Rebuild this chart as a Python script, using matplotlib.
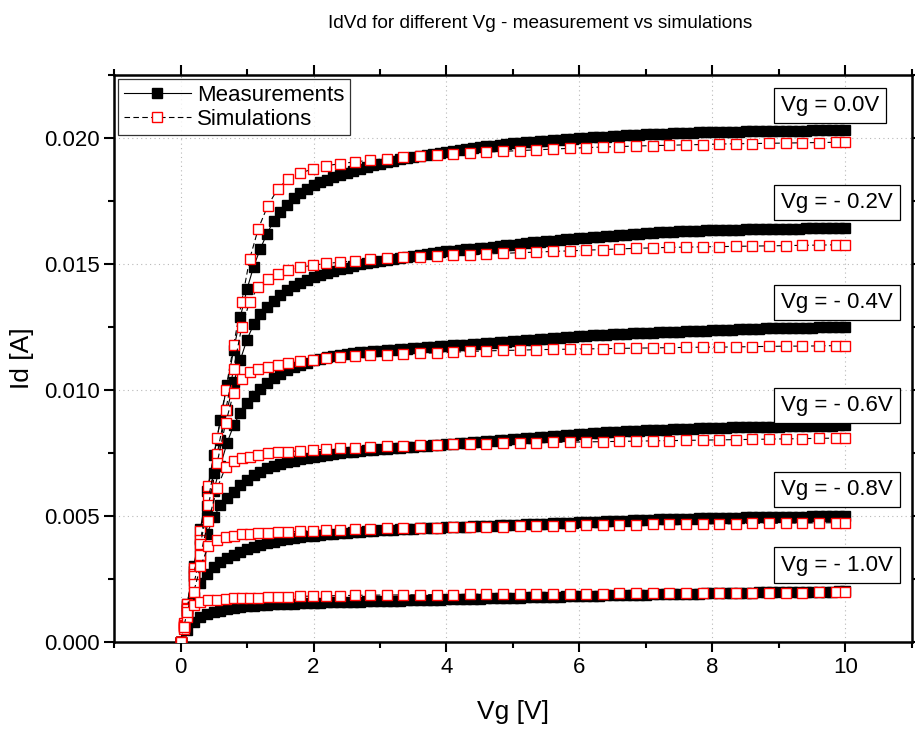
import numpy as np
import matplotlib
matplotlib.use("Agg")
import matplotlib.pyplot as plt
from matplotlib.ticker import MultipleLocator, FormatStrFormatter

plt.rcParams['font.family'] = ['Liberation Sans', 'DejaVu Sans']

# drain voltage sweep of the measurements (step 0.1 V)
meas_vd = [round(0.1 * i, 1) for i in range(101)]

# measured drain current, mA
meas_0_0 = [0, 1.5, 3.0, 4.5, 6.0, 7.4, 8.8, 10.2, 11.6, 12.9,
            14.0, 14.9, 15.6, 16.2, 16.7, 17.05, 17.35, 17.6, 17.8, 17.98,
            18.12, 18.24, 18.35, 18.45, 18.54, 18.62, 18.7, 18.78, 18.85, 18.92,
            18.98, 19.04, 19.1, 19.15, 19.2, 19.25, 19.29, 19.33, 19.37, 19.41,
            19.45, 19.49, 19.53, 19.57, 19.6, 19.64, 19.67, 19.7, 19.73, 19.76,
            19.79, 19.81, 19.83, 19.85, 19.87, 19.89, 19.91, 19.93, 19.95, 19.97,
            19.99, 20.01, 20.02, 20.04, 20.05, 20.07, 20.08, 20.1, 20.11, 20.12,
            20.14, 20.15, 20.16, 20.17, 20.18, 20.19, 20.2, 20.21, 20.22, 20.22,
            20.23, 20.24, 20.24, 20.25, 20.25, 20.26, 20.26, 20.27, 20.27, 20.28,
            20.28, 20.28, 20.29, 20.29, 20.29, 20.3, 20.3, 20.3, 20.31, 20.31,
            20.31]
meas_0_2 = [0, 1.4, 2.8, 4.1, 5.4, 6.7, 8.0, 9.2, 10.3, 11.2,
            12.0, 12.6, 13.0, 13.3, 13.55, 13.78, 13.97, 14.13, 14.26, 14.37,
            14.47, 14.56, 14.64, 14.72, 14.79, 14.86, 14.92, 14.98, 15.03, 15.08,
            15.13, 15.17, 15.21, 15.25, 15.29, 15.33, 15.37, 15.41, 15.44, 15.47,
            15.5, 15.53, 15.56, 15.58, 15.6, 15.62, 15.65, 15.68, 15.71, 15.74,
            15.77, 15.8, 15.83, 15.86, 15.88, 15.91, 15.93, 15.96, 15.98, 16.0,
            16.02, 16.04, 16.06, 16.08, 16.1, 16.12, 16.14, 16.16, 16.18, 16.2,
            16.22, 16.24, 16.26, 16.27, 16.28, 16.29, 16.3, 16.31, 16.32, 16.33,
            16.34, 16.35, 16.35, 16.36, 16.36, 16.37, 16.37, 16.38, 16.38, 16.39,
            16.39, 16.4, 16.4, 16.4, 16.41, 16.41, 16.41, 16.42, 16.42, 16.42,
            16.42]
meas_0_4 = [0, 1.3, 2.6, 3.8, 4.95, 6.0, 7.0, 7.9, 8.6, 9.1,
            9.48, 9.78, 10.04, 10.27, 10.47, 10.64, 10.78, 10.9, 11.0, 11.09,
            11.17, 11.24, 11.3, 11.35, 11.39, 11.43, 11.46, 11.49, 11.52, 11.54,
            11.56, 11.58, 11.6, 11.62, 11.64, 11.66, 11.68, 11.7, 11.72, 11.74,
            11.76, 11.77, 11.79, 11.8, 11.82, 11.83, 11.85, 11.87, 11.89, 11.91,
            11.93, 11.95, 11.97, 11.99, 12.01, 12.03, 12.05, 12.07, 12.09, 12.11,
            12.13, 12.15, 12.17, 12.19, 12.2, 12.21, 12.22, 12.23, 12.25, 12.26,
            12.27, 12.28, 12.29, 12.3, 12.31, 12.32, 12.33, 12.34, 12.35, 12.36,
            12.37, 12.38, 12.39, 12.4, 12.41, 12.42, 12.43, 12.43, 12.44, 12.44,
            12.45, 12.45, 12.46, 12.46, 12.47, 12.47, 12.48, 12.48, 12.49, 12.49,
            12.5]
meas_0_6 = [0, 1.2, 2.4, 3.4, 4.3, 4.95, 5.43, 5.7, 5.97, 6.22,
            6.43, 6.61, 6.76, 6.89, 6.99, 7.07, 7.14, 7.2, 7.25, 7.29,
            7.33, 7.37, 7.41, 7.45, 7.49, 7.52, 7.55, 7.58, 7.61, 7.63,
            7.65, 7.67, 7.69, 7.71, 7.73, 7.75, 7.77, 7.79, 7.81, 7.83,
            7.85, 7.87, 7.89, 7.91, 7.93, 7.95, 7.97, 7.99, 8.01, 8.03,
            8.05, 8.07, 8.09, 8.11, 8.13, 8.15, 8.17, 8.19, 8.21, 8.23,
            8.25, 8.27, 8.29, 8.3, 8.32, 8.33, 8.35, 8.36, 8.37, 8.38,
            8.4, 8.41, 8.42, 8.43, 8.44, 8.45, 8.46, 8.47, 8.48, 8.49,
            8.5, 8.51, 8.51, 8.52, 8.52, 8.53, 8.53, 8.54, 8.54, 8.55,
            8.55, 8.56, 8.56, 8.57, 8.57, 8.58, 8.58, 8.59, 8.59, 8.6,
            8.6]
meas_0_8 = [0, 1.0, 1.8, 2.35, 2.7, 2.98, 3.17, 3.33, 3.46, 3.57,
            3.67, 3.76, 3.84, 3.91, 3.97, 4.03, 4.08, 4.12, 4.16, 4.19,
            4.22, 4.25, 4.27, 4.29, 4.31, 4.33, 4.35, 4.37, 4.39, 4.41,
            4.43, 4.45, 4.46, 4.48, 4.49, 4.5, 4.51, 4.52, 4.53, 4.54,
            4.55, 4.56, 4.57, 4.58, 4.59, 4.6, 4.61, 4.62, 4.63, 4.64,
            4.65, 4.66, 4.67, 4.68, 4.69, 4.7, 4.71, 4.72, 4.73, 4.74,
            4.75, 4.76, 4.77, 4.78, 4.79, 4.8, 4.81, 4.82, 4.83, 4.84,
            4.85, 4.86, 4.87, 4.87, 4.88, 4.88, 4.89, 4.89, 4.9, 4.9,
            4.91, 4.92, 4.92, 4.93, 4.93, 4.94, 4.94, 4.95, 4.95, 4.96,
            4.96, 4.96, 4.97, 4.97, 4.97, 4.98, 4.98, 4.98, 4.99, 4.99,
            5.0]
meas_1_0 = [0, 0.48, 0.8, 0.98, 1.09, 1.17, 1.24, 1.29, 1.34, 1.38,
            1.41, 1.43, 1.45, 1.47, 1.49, 1.5, 1.51, 1.52, 1.53, 1.54,
            1.55, 1.56, 1.57, 1.58, 1.58, 1.59, 1.6, 1.6, 1.61, 1.62,
            1.62, 1.63, 1.64, 1.64, 1.65, 1.66, 1.66, 1.67, 1.68, 1.68,
            1.69, 1.7, 1.7, 1.71, 1.72, 1.72, 1.73, 1.74, 1.74, 1.75,
            1.76, 1.76, 1.77, 1.78, 1.78, 1.79, 1.8, 1.8, 1.81, 1.82,
            1.82, 1.83, 1.84, 1.84, 1.85, 1.86, 1.86, 1.87, 1.87, 1.88,
            1.88, 1.89, 1.89, 1.9, 1.9, 1.91, 1.91, 1.92, 1.92, 1.93,
            1.93, 1.94, 1.94, 1.95, 1.95, 1.96, 1.96, 1.97, 1.97, 1.97,
            1.98, 1.98, 1.98, 1.99, 1.99, 1.99, 2.0, 2.0, 2.0, 2.01,
            2.01]

# simulated sweep (non uniform solver steps)
sim_vd = [0, 0.05, 0.1, 0.2, 0.3, 0.42, 0.55, 0.68, 0.8, 0.92,
          1.04, 1.17, 1.31, 1.46, 1.62, 1.8, 1.99, 2.19, 2.4, 2.62,
          2.85, 3.1, 3.35, 3.6, 3.85, 4.1, 4.35, 4.6, 4.85, 5.1,
          5.35, 5.6, 5.85, 6.1, 6.35, 6.6, 6.85, 7.1, 7.35, 7.6,
          7.85, 8.1, 8.35, 8.6, 8.85, 9.1, 9.35, 9.6, 9.85, 10.0]

sim_0_0 = [0, 0.75, 1.5, 2.95, 4.4, 6.2, 8.1, 10.0, 11.8, 13.5,
           15.2, 16.4, 17.3, 17.97, 18.39, 18.61, 18.77, 18.9, 18.98, 19.05,
           19.12, 19.18, 19.24, 19.29, 19.34, 19.38, 19.41, 19.44, 19.47, 19.5,
           19.53, 19.56, 19.59, 19.62, 19.64, 19.66, 19.68, 19.7, 19.71, 19.73,
           19.74, 19.76, 19.77, 19.78, 19.79, 19.8, 19.81, 19.82, 19.83, 19.84]
sim_0_2 = [0, 0.68, 1.36, 2.7, 4.05, 5.7, 7.45, 9.2, 10.85, 12.5,
           13.5, 14.1, 14.42, 14.62, 14.76, 14.87, 14.95, 15.02, 15.07, 15.13,
           15.18, 15.22, 15.26, 15.29, 15.32, 15.35, 15.37, 15.4, 15.42, 15.45,
           15.47, 15.5, 15.52, 15.55, 15.57, 15.6, 15.62, 15.64, 15.66, 15.67,
           15.68, 15.69, 15.7, 15.71, 15.72, 15.73, 15.74, 15.75, 15.76, 15.76]
sim_0_4 = [0, 0.65, 1.3, 2.6, 3.9, 5.45, 7.1, 8.7, 9.9, 10.45,
           10.7, 10.83, 10.92, 11.0, 11.08, 11.15, 11.2, 11.25, 11.29, 11.33,
           11.37, 11.4, 11.43, 11.46, 11.48, 11.5, 11.53, 11.55, 11.57, 11.58,
           11.6, 11.61, 11.62, 11.63, 11.64, 11.65, 11.66, 11.67, 11.68, 11.69,
           11.7, 11.7, 11.71, 11.72, 11.73, 11.74, 11.74, 11.75, 11.76, 11.76]
sim_0_6 = [0, 0.58, 1.15, 2.3, 3.45, 4.8, 6.1, 6.95, 7.2, 7.3,
           7.36, 7.43, 7.48, 7.52, 7.55, 7.59, 7.62, 7.65, 7.68, 7.71,
           7.74, 7.76, 7.78, 7.8, 7.82, 7.84, 7.86, 7.87, 7.88, 7.9,
           7.91, 7.92, 7.93, 7.94, 7.95, 7.96, 7.97, 7.98, 7.99, 8.0,
           8.01, 8.02, 8.03, 8.04, 8.05, 8.06, 8.07, 8.08, 8.09, 8.1]
sim_0_8 = [0, 0.5, 1.0, 2.0, 3.0, 3.8, 4.05, 4.15, 4.22, 4.27,
           4.3, 4.32, 4.34, 4.36, 4.37, 4.39, 4.42, 4.44, 4.46, 4.48,
           4.5, 4.51, 4.52, 4.53, 4.54, 4.55, 4.56, 4.57, 4.58, 4.59,
           4.6, 4.61, 4.62, 4.63, 4.64, 4.65, 4.66, 4.67, 4.67, 4.68,
           4.69, 4.69, 4.7, 4.71, 4.71, 4.72, 4.72, 4.73, 4.73, 4.74]
sim_1_0 = [0, 0.6, 1.2, 1.45, 1.58, 1.65, 1.68, 1.71, 1.73, 1.74,
           1.75, 1.76, 1.77, 1.79, 1.8, 1.81, 1.82, 1.83, 1.84, 1.85,
           1.86, 1.86, 1.87, 1.87, 1.88, 1.88, 1.89, 1.89, 1.9, 1.9,
           1.91, 1.91, 1.92, 1.92, 1.92, 1.93, 1.93, 1.93, 1.94, 1.94,
           1.94, 1.95, 1.95, 1.95, 1.96, 1.96, 1.96, 1.97, 1.97, 1.97]

measurements = [meas_0_0, meas_0_2, meas_0_4, meas_0_6, meas_0_8, meas_1_0]
simulations = [sim_0_0, sim_0_2, sim_0_4, sim_0_6, sim_0_8, sim_1_0]

vg_labels = ["Vg = 0.0V", "Vg = - 0.2V", "Vg = - 0.4V",
             "Vg = - 0.6V", "Vg = - 0.8V", "Vg = - 1.0V"]
label_y = [0.0213, 0.01743, 0.01347, 0.00939, 0.00606, 0.00305]


fig = plt.figure(figsize=(9.15, 7.31), dpi=100)
ax = fig.add_axes([0.1246, 0.1218, 0.8721, 0.7756])

for i in range(len(measurements)):
    ax.plot(meas_vd, np.array(measurements[i]) * 1e-3, color="black", lw=0.8,
            marker="s", ms=7, mfc="black", mec="black",
            label="Measurements" if i == 0 else None, zorder=3)
for i in range(len(simulations)):
    ax.plot(sim_vd, np.array(simulations[i]) * 1e-3, color="black", lw=0.8,
            ls=(0, (5, 3)), marker="s", ms=7.5, mfc="white", mec="red", mew=1.0,
            label="Simulations" if i == 0 else None, zorder=4)

for txt, yy in zip(vg_labels, label_y):
    ax.text(9.03, yy, txt, fontsize=16, va="center", ha="left", zorder=5,
            bbox=dict(boxstyle="square,pad=0.32", fc="white", ec="black", lw=0.9))

ax.set_xlim(-1, 11)
ax.set_ylim(0, 0.0225)
ax.xaxis.set_major_locator(MultipleLocator(2))
ax.xaxis.set_minor_locator(MultipleLocator(1))
ax.yaxis.set_major_locator(MultipleLocator(0.005))
ax.yaxis.set_minor_locator(MultipleLocator(0.0025))
ax.yaxis.set_major_formatter(FormatStrFormatter("%.3f"))
ax.tick_params(which="both", direction="out", width=1.5, labelsize=16,
               top=True, right=True)
ax.tick_params(which="major", length=7)
ax.tick_params(which="minor", length=4)
for sp in ax.spines.values():
    sp.set_linewidth(1.8)
ax.grid(True, which="major", color="#b8b8b8", ls=(0, (1, 3)), lw=0.8)

ax.set_xlabel("Vg [V]", fontsize=19, labelpad=16)
ax.set_ylabel("Id [A]", fontsize=19, labelpad=7)
fig.suptitle("IdVd for different Vg - measurement vs simulations", fontsize=13.7,
             x=0.59, y=0.98)

leg = ax.legend(loc="upper left", fontsize=16, frameon=True, fancybox=False,
                borderaxespad=0.2, handlelength=3.0, handletextpad=0.3,
                borderpad=0.25, labelspacing=0.12)
leg.get_frame().set_edgecolor("black")
leg.get_frame().set_linewidth(0.9)

fig.savefig("out.png", dpi=100)
